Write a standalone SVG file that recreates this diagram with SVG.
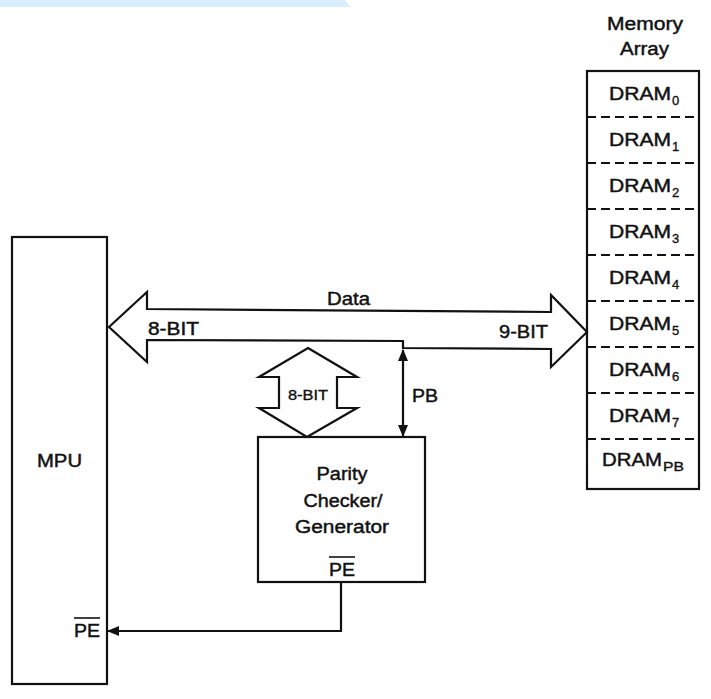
<svg xmlns="http://www.w3.org/2000/svg" width="711" height="699" viewBox="0 0 711 699">
<style>
.ln{fill:none;stroke:#111;stroke-width:2.2;stroke-linejoin:miter}
.bx{fill:#fff;stroke:#111;stroke-width:2.2}
.dash{fill:none;stroke:#111;stroke-width:2.2;stroke-dasharray:9 5}
.t{font-family:"Liberation Sans",Arial,sans-serif;font-size:18px;fill:#111;stroke:#111;stroke-width:0.45}
.s{font-family:"Liberation Sans",Arial,sans-serif;font-size:13px;fill:#111;stroke:#111;stroke-width:0.35}
.sm{font-family:"Liberation Sans",Arial,sans-serif;font-size:14px;fill:#111;stroke:#111;stroke-width:0.35}
</style>
<defs>
<marker id="ah" viewBox="0 0 12 10" refX="11" refY="5" markerWidth="12" markerHeight="10" markerUnits="userSpaceOnUse" orient="auto-start-reverse">
<path d="M0,0 L12,5 L0,10 Z" fill="#111"/>
</marker>
</defs>
<rect width="711" height="699" fill="#fff"/>
<polygon points="0,0 345,0 350,7 0,7" fill="#d8eefa"/>

<g id="mpu">
<rect class="bx" x="12" y="237" width="95" height="447"/>
<text class="t" x="37" y="467" textLength="45" lengthAdjust="spacingAndGlyphs">MPU</text>
<text class="t" x="74" y="637" textLength="26" lengthAdjust="spacingAndGlyphs">PE</text>
<line x1="74" y1="618" x2="100" y2="618" stroke="#111" stroke-width="1.6"/>
</g>

<g id="memory">
<text class="t" x="607" y="30" textLength="76" lengthAdjust="spacingAndGlyphs">Memory</text>
<text class="t" x="620" y="55" textLength="49" lengthAdjust="spacingAndGlyphs">Array</text>
<rect class="bx" x="587" y="71" width="112" height="418"/>
<line class="dash" x1="587" y1="117" x2="699" y2="117"/>
<line class="dash" x1="587" y1="163" x2="699" y2="163"/>
<line class="dash" x1="587" y1="209" x2="699" y2="209"/>
<line class="dash" x1="587" y1="255" x2="699" y2="255"/>
<line class="dash" x1="587" y1="301" x2="699" y2="301"/>
<line class="dash" x1="587" y1="347" x2="699" y2="347"/>
<line class="dash" x1="587" y1="393" x2="699" y2="393"/>
<line class="dash" x1="587" y1="439" x2="699" y2="439"/>
<text class="t" x="609" y="100" textLength="62" lengthAdjust="spacingAndGlyphs">DRAM</text><text class="s" x="672" y="105">0</text>
<text class="t" x="609" y="146" textLength="62" lengthAdjust="spacingAndGlyphs">DRAM</text><text class="s" x="672" y="151">1</text>
<text class="t" x="609" y="192" textLength="62" lengthAdjust="spacingAndGlyphs">DRAM</text><text class="s" x="672" y="197">2</text>
<text class="t" x="609" y="238" textLength="62" lengthAdjust="spacingAndGlyphs">DRAM</text><text class="s" x="672" y="243">3</text>
<text class="t" x="609" y="284" textLength="62" lengthAdjust="spacingAndGlyphs">DRAM</text><text class="s" x="672" y="289">4</text>
<text class="t" x="609" y="330" textLength="62" lengthAdjust="spacingAndGlyphs">DRAM</text><text class="s" x="672" y="335">5</text>
<text class="t" x="609" y="376" textLength="62" lengthAdjust="spacingAndGlyphs">DRAM</text><text class="s" x="672" y="381">6</text>
<text class="t" x="609" y="422" textLength="62" lengthAdjust="spacingAndGlyphs">DRAM</text><text class="s" x="672" y="427">7</text>
<text class="t" x="602" y="466" textLength="60" lengthAdjust="spacingAndGlyphs">DRAM</text><text class="s" x="663" y="471" textLength="21" lengthAdjust="spacingAndGlyphs">PB</text>
</g>

<g id="parity">
<rect class="bx" x="258" y="437" width="167" height="145"/>
<text class="t" x="342" y="480" text-anchor="middle" textLength="51" lengthAdjust="spacingAndGlyphs">Parity</text>
<text class="t" x="343" y="507" text-anchor="middle" textLength="79" lengthAdjust="spacingAndGlyphs">Checker/</text>
<text class="t" x="342" y="533" text-anchor="middle" textLength="94" lengthAdjust="spacingAndGlyphs">Generator</text>
<text class="t" x="329" y="576" textLength="26" lengthAdjust="spacingAndGlyphs">PE</text>
<line x1="329" y1="557" x2="355" y2="557" stroke="#111" stroke-width="1.6"/>
</g>

<g id="connectors">
<polygon class="ln" points="109,327 147,292 147,309 551,312 551,295 587,332 551,367 551,349 403,348 403,341 147,340 147,362"/>
<text class="t" x="327" y="305" textLength="43" lengthAdjust="spacingAndGlyphs">Data</text>
<text class="t" x="148" y="335" textLength="51" lengthAdjust="spacingAndGlyphs">8-BIT</text>
<text class="t" x="499" y="338" textLength="49" lengthAdjust="spacingAndGlyphs">9-BIT</text>

<polygon class="ln" points="308,348 357,377 337,377 337,408 357,408 307,437 259,408 279,408 279,377 259,377"/>
<text class="sm" x="288" y="400" textLength="40" lengthAdjust="spacingAndGlyphs">8-BIT</text>

<line class="ln" x1="403" y1="350" x2="403" y2="436" marker-start="url(#ah)" marker-end="url(#ah)"/>
<text class="t" x="412" y="402" textLength="26" lengthAdjust="spacingAndGlyphs">PB</text>

<polyline class="ln" points="341,582 341,631 108,631" marker-end="url(#ah)"/>
</g>
</svg>
